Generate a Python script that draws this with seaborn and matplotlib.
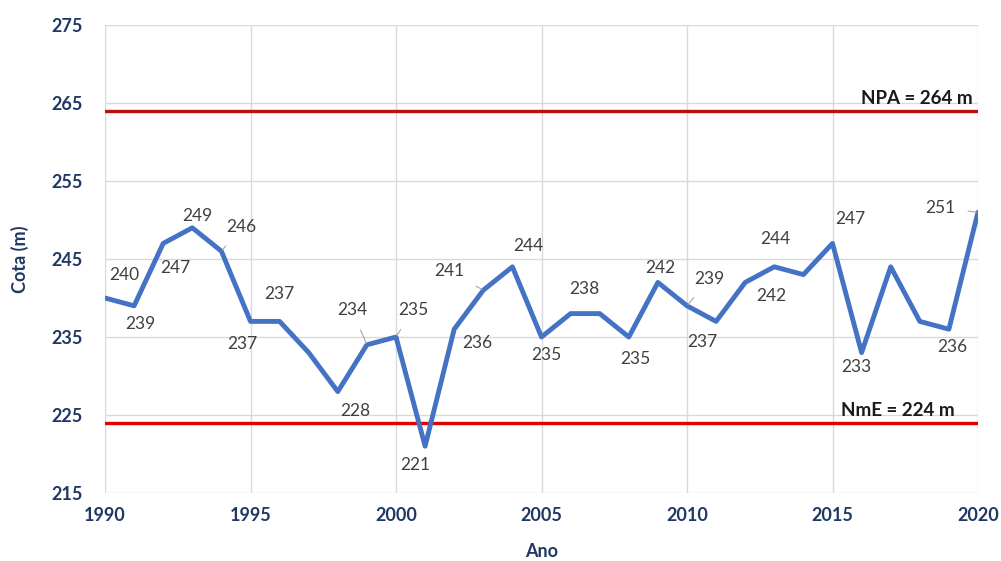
import matplotlib
matplotlib.use("Agg")
import matplotlib.pyplot as plt
import seaborn as sns
import pandas as pd

# Annual reservoir level series
anos = list(range(1990, 2021))
cotas = [240, 239, 247, 249, 246, 237, 237, 233, 228, 234,
         235, 221, 236, 241, 244, 235, 238, 238, 235, 242,
         239, 237, 242, 244, 243, 247, 233, 244, 237, 236, 251]

# Reference levels
npa = 264
nme = 224

# Which years carry a data label, and where it sits (pixel offsets), with leader flag
rotulos = {
    1990: (19, -23, False), 1991: (6, 18, False), 1992: (12, 25, False),
    1993: (5, -12, False), 1994: (20, -24, True), 1995: (-8, 23, False),
    1996: (0, -27, False), 1998: (17, 19, False), 1999: (-15, -35, True),
    2000: (17, -27, True), 2001: (-10, 19, False), 2002: (23, 14, False),
    2003: (-34, -19, True), 2004: (16, -21, False), 2005: (5, 18, False),
    2006: (14, -25, False), 2008: (7, 22, False), 2009: (2, -14, False),
    2010: (22, -27, True), 2011: (-14, 21, False), 2012: (26, 14, False),
    2013: (1, -28, False), 2015: (18, -24, False), 2016: (-5, 14, False),
    2019: (3, 18, False), 2020: (-38, -4, True),
}

df = pd.DataFrame({"Ano": anos, "Cota": cotas})

sns.set_theme(style="white")
plt.rcParams["font.family"] = ["Lato", "DejaVu Sans"]

navy = "#1F3864"
fig = plt.figure(figsize=(10.01, 5.61), dpi=100)
ax = fig.add_axes([105 / 1001, 1 - 493 / 561, (978 - 105) / 1001, (493 - 25) / 561])

ax.axhline(npa, color="#B81010", lw=2.4, zorder=2)
ax.axhline(nme, color="#E00000", lw=2.4, zorder=2)

sns.lineplot(data=df, x="Ano", y="Cota", ax=ax, color="#4472C4", lw=3.5, zorder=3)

for ano, cota in zip(anos, cotas):
    if ano not in rotulos:
        continue
    dx, dy, guia = rotulos[ano]
    props = None
    if guia:
        props = dict(arrowstyle="-", color="#A6A6A6", lw=0.8, shrinkA=7, shrinkB=1)
    ax.annotate(str(cota), xy=(ano, cota), xytext=(dx, -dy), textcoords="offset pixels",
                ha="center", va="center", fontsize=12.5, color="#404040",
                arrowprops=props, zorder=4)

ax.text(2019.8, npa + 0.5, f"NPA = {npa} m", ha="right", va="bottom",
        fontsize=13.5, fontweight="bold", color="#1a1a1a")
ax.text(2019.2, nme + 0.5, f"NmE = {nme} m", ha="right", va="bottom",
        fontsize=13.5, fontweight="bold", color="#1a1a1a")

ax.set_xlim(1990, 2020)
ax.set_ylim(215, 275)
ax.set_xticks(range(1990, 2021, 5))
ax.set_yticks(range(215, 276, 10))
ax.grid(True, color="#D9D9D9", lw=1)
for s in ax.spines.values():
    s.set_visible(False)
ax.tick_params(axis="both", length=0, labelsize=13, colors=navy)
ax.tick_params(axis="y", pad=16)
ax.tick_params(axis="x", pad=10)
for lab in ax.get_xticklabels() + ax.get_yticklabels():
    lab.set_fontweight("bold")

ax.set_xlabel("Ano", fontsize=13, fontweight="bold", color=navy, labelpad=14)
ax.set_ylabel("Cota (m)", fontsize=13, fontweight="bold", color=navy, labelpad=16)

fig.savefig("out.png", dpi=100, facecolor="white")
